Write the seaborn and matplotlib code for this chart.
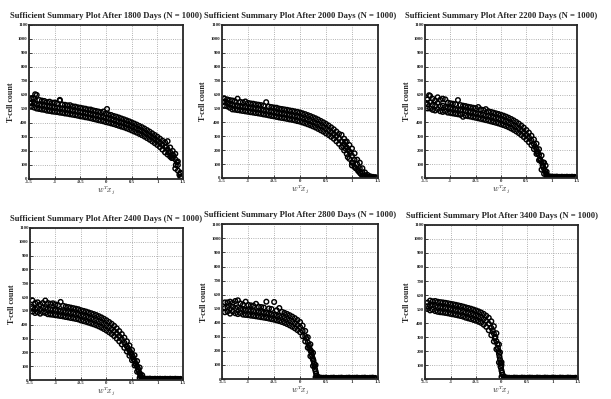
import pandas as pd
import matplotlib.pyplot as plt
import seaborn as sns

# common x grid (w^T x_j) the bands were read on
u = [-1.45, -1.40, -1.35, -1.30, -1.25, -1.20, -1.15, -1.10, -1.05, -1.00,
     -0.95, -0.90, -0.85, -0.80, -0.75, -0.70, -0.65, -0.60, -0.55, -0.50,
     -0.45, -0.40, -0.35, -0.30, -0.25, -0.20, -0.15, -0.10, -0.05, 0.00,
     0.05, 0.10, 0.15, 0.20, 0.25, 0.30, 0.35, 0.40, 0.45, 0.50,
     0.55, 0.60, 0.65, 0.70, 0.75, 0.80, 0.85, 0.90, 0.95, 1.00,
     1.05, 1.10, 1.15, 1.20, 1.25, 1.30, 1.35, 1.40, 1.45]

days = [1800, 2000, 2200, 2400, 2800, 3400]

# T-cell counts: upper / middle / lower edge of each point cloud
hi_1800 = [575, 575, 600, 564, 560, 557, 549, 552, 545, 546,
           540, 560, 532, 530, 526, 527, 519, 517, 512, 509,
           505, 502, 497, 496, 490, 486, 482, 477, 482, 468,
           462, 457, 450, 445, 439, 432, 426, 419, 412, 404,
           396, 388, 379, 370, 360, 349, 338, 326, 314, 302,
           288, 274, 262, 270, 225, 200, 180, 125, 45]
mid_1800 = [545, 540, 535, 530, 527, 524, 521, 518, 515, 512,
            509, 506, 503, 500, 497, 494, 490, 487, 483, 479,
            476, 472, 468, 464, 460, 456, 452, 447, 443, 438,
            433, 427, 422, 416, 410, 404, 398, 391, 384, 376,
            368, 360, 351, 342, 332, 321, 310, 298, 286, 273,
            259, 244, 228, 211, 192, 170, 140, 100, 40]
lo_1800 = [520, 510, 503, 500, 496, 494, 488, 486, 482, 480,
           478, 474, 472, 468, 466, 462, 459, 456, 452, 448,
           445, 441, 438, 434, 429, 425, 420, 416, 412, 406,
           402, 397, 392, 386, 380, 374, 369, 362, 355, 347,
           339, 331, 322, 313, 303, 292, 281, 269, 256, 243,
           228, 210, 190, 175, 160, 150, 75, 60, 15]
ex_x_1800 = [-1.48, -1.42, -1.38, 1.18, 1.22, 1.28, 1.32, 1.36, 1.38, 1.43, 1.47, -0.90, 0.02]
ex_y_1800 = [540, 580, 605, 230, 190, 150, 165, 100, 120, 30, 15, 565, 500]

hi_2000 = [570, 565, 560, 557, 552, 570, 547, 544, 550, 540,
           536, 534, 530, 527, 524, 520, 545, 514, 510, 507,
           505, 499, 496, 493, 490, 486, 483, 479, 475, 471,
           465, 459, 452, 445, 437, 429, 420, 410, 400, 389,
           377, 364, 350, 334, 317, 310, 282, 262, 237, 212,
           177, 132, 110, 70, 40, 22, 12, 8, 6]
mid_2000 = [550, 540, 530, 525, 522, 518, 515, 512, 510, 507,
            504, 501, 498, 495, 492, 488, 485, 481, 478, 474,
            470, 466, 463, 459, 456, 452, 449, 445, 441, 437,
            431, 425, 418, 411, 403, 395, 386, 376, 366, 355,
            343, 330, 316, 300, 283, 264, 243, 220, 190, 160,
            130, 100, 70, 40, 20, 10, 5, 3, 2]
lo_2000 = [520, 515, 505, 493, 491, 488, 485, 482, 479, 476,
           473, 470, 467, 464, 461, 457, 454, 450, 446, 443,
           439, 435, 432, 429, 425, 421, 418, 414, 409, 405,
           399, 393, 386, 379, 371, 363, 353, 343, 333, 321,
           309, 296, 282, 264, 246, 223, 198, 173, 138, 110,
           80, 65, 38, 15, 5, 2, 0, 0, 0]
ex_x_2000 = [-1.48, 0.83, 0.87, 0.92, 0.93, 0.97, 1.00, 1.02, 1.07, 1.12, 1.17, 1.22, 0.88]
ex_y_2000 = [545, 230, 260, 150, 200, 180, 90, 110, 70, 50, 30, 15, 210]

hi_2200 = [565, 590, 570, 557, 580, 562, 570, 565, 542, 537,
           534, 530, 560, 524, 520, 517, 512, 509, 505, 502,
           510, 493, 489, 495, 480, 475, 470, 465, 460, 454,
           448, 441, 433, 424, 414, 403, 391, 377, 362, 345,
           326, 304, 277, 247, 207, 162, 110, 45, 12, 10,
           9, 10, 8, 9, 8, 9, 8, 9, 8]
mid_2200 = [530, 545, 525, 520, 540, 515, 520, 510, 505, 502,
            498, 495, 492, 488, 485, 482, 478, 475, 471, 467,
            463, 459, 455, 450, 446, 441, 436, 431, 426, 420,
            414, 407, 399, 390, 380, 369, 357, 343, 328, 311,
            292, 270, 243, 210, 165, 115, 65, 20, 5, 3,
            3, 4, 3, 2, 3, 4, 3, 2, 3]
lo_2200 = [500, 500, 490, 485, 495, 480, 475, 480, 470, 468,
           464, 461, 458, 454, 440, 448, 444, 441, 437, 433,
           429, 425, 421, 416, 412, 407, 402, 397, 392, 386,
           380, 373, 365, 356, 346, 335, 323, 309, 294, 277,
           258, 236, 208, 173, 128, 60, 30, 3, 0, 0,
           0, 0, 0, 0, 0, 0, 0, 0, 0]
ex_x_2200 = [-1.48, -1.42, 0.67, 0.72, 0.73, 0.77, 0.78, 0.82, 0.83, 0.84, 0.87, 0.88, 0.89, 0.91]
ex_y_2200 = [540, 595, 225, 190, 175, 135, 125, 90, 80, 110, 50, 90, 30, 15]

hi_2400 = [575, 557, 562, 547, 557, 575, 557, 552, 555, 547,
           542, 565, 537, 532, 528, 524, 520, 516, 512, 505,
           500, 495, 489, 483, 477, 470, 462, 453, 443, 432,
           420, 407, 392, 374, 354, 332, 307, 280, 250, 217,
           179, 137, 90, 35, 10, 9, 10, 8, 9, 8,
           9, 8, 9, 8, 9, 8, 9, 8, 8]
mid_2400 = [520, 515, 520, 510, 525, 520, 515, 512, 510, 507,
            504, 500, 497, 494, 490, 487, 483, 479, 475, 468,
            463, 458, 452, 446, 440, 433, 425, 416, 406, 395,
            383, 370, 355, 337, 317, 295, 270, 243, 213, 180,
            142, 100, 50, 12, 4, 3, 4, 3, 2, 3,
            4, 3, 2, 3, 4, 3, 2, 3, 2]
lo_2400 = [495, 485, 490, 480, 490, 485, 476, 474, 472, 469,
           466, 463, 460, 456, 453, 449, 446, 442, 438, 431,
           426, 421, 415, 409, 403, 396, 388, 379, 369, 358,
           346, 333, 318, 300, 280, 258, 233, 206, 176, 143,
           105, 60, 15, 2, 0, 0, 0, 0, 0, 0,
           0, 0, 0, 0, 0, 0, 0, 0, 0]
ex_x_2400 = [-1.48, 0.42, 0.47, 0.48, 0.52, 0.53, 0.57, 0.58, 0.62, 0.63, 0.66, 0.67, 0.68]
ex_y_2400 = [530, 230, 200, 190, 165, 150, 120, 110, 80, 65, 40, 30, 20]

hi_2800 = [545, 545, 550, 542, 555, 560, 537, 530, 550, 527,
           524, 521, 535, 515, 512, 509, 550, 502, 498, 548,
           489, 505, 478, 471, 463, 454, 444, 433, 420, 406,
           380, 342, 297, 247, 187, 100, 15, 10, 9, 10,
           8, 9, 10, 8, 9, 10, 8, 9, 10, 8,
           9, 10, 8, 9, 10, 8, 9, 10, 8]
mid_2800 = [505, 510, 500, 515, 505, 510, 500, 495, 492, 490,
            487, 485, 482, 479, 476, 473, 470, 466, 462, 458,
            453, 448, 442, 435, 427, 418, 408, 397, 384, 370,
            342, 305, 260, 205, 140, 55, 8, 3, 4, 3,
            2, 3, 4, 3, 2, 3, 4, 3, 2, 3,
            4, 3, 2, 3, 4, 3, 2, 3, 2]
lo_2800 = [475, 480, 465, 480, 468, 462, 468, 458, 456, 454,
           451, 449, 446, 443, 440, 437, 434, 430, 426, 422,
           417, 412, 406, 399, 391, 382, 372, 361, 348, 334,
           304, 268, 223, 163, 93, 12, 2, 0, 0, 0,
           0, 0, 0, 0, 0, 0, 0, 0, 0, 0,
           0, 0, 0, 0, 0, 0, 0, 0, 0]
ex_x_2800 = [0.12, 0.17, 0.18, 0.21, 0.22, 0.23, 0.24, 0.26, 0.27, 0.28, 0.29, 0.31, 0.32, 0.33]
ex_y_2800 = [290, 240, 220, 200, 190, 170, 150, 130, 110, 90, 70, 40, 25, 12]

hi_3400 = [545, 560, 555, 557, 552, 549, 547, 544, 541, 537,
           534, 530, 526, 522, 517, 512, 507, 502, 496, 490,
           483, 475, 465, 452, 437, 412, 377, 327, 247, 120,
           18, 10, 9, 8, 10, 9, 8, 10, 9, 8,
           10, 9, 8, 10, 9, 8, 10, 9, 8, 10,
           9, 8, 10, 9, 8, 10, 9, 8, 9]
mid_3400 = [520, 525, 530, 520, 515, 512, 510, 507, 504, 500,
            497, 493, 489, 485, 480, 475, 470, 465, 459, 453,
            446, 438, 428, 415, 395, 365, 325, 270, 180, 60,
            8, 3, 4, 3, 2, 3, 4, 3, 2, 3,
            4, 3, 2, 3, 4, 3, 2, 3, 4, 3,
            2, 3, 4, 3, 2, 3, 4, 3, 2]
lo_3400 = [500, 490, 495, 485, 480, 477, 475, 472, 469, 465,
           462, 458, 454, 450, 445, 438, 433, 428, 422, 416,
           409, 401, 388, 373, 348, 313, 268, 213, 118, 15,
           2, 0, 0, 0, 0, 0, 0, 0, 0, 0,
           0, 0, 0, 0, 0, 0, 0, 0, 0, 0,
           0, 0, 0, 0, 0, 0, 0, 0, 0]
ex_x_3400 = [-0.17, -0.13, -0.12, -0.08, -0.07, -0.06, -0.04, -0.03, -0.03, -0.02, -0.02, -0.01, 0.00, 0.01, 0.02]
ex_y_3400 = [345, 290, 300, 250, 220, 200, 160, 140, 190, 115, 90, 80, 100, 45, 30]

x_ticks = [-1.5, -1, -0.5, 0, 0.5, 1, 1.5]
x_ticklabels = ['-1.5', '-1', '-0.5', '0', '0.5', '1', '1.5']
y_ticks = [0, 100, 200, 300, 400, 500, 600, 700, 800, 900, 1000, 1100]

panels = [
    (hi_1800, mid_1800, lo_1800, ex_x_1800, ex_y_1800),
    (hi_2000, mid_2000, lo_2000, ex_x_2000, ex_y_2000),
    (hi_2200, mid_2200, lo_2200, ex_x_2200, ex_y_2200),
    (hi_2400, mid_2400, lo_2400, ex_x_2400, ex_y_2400),
    (hi_2800, mid_2800, lo_2800, ex_x_2800, ex_y_2800),
    (hi_3400, mid_3400, lo_3400, ex_x_3400, ex_y_3400),
]

sns.set_style("ticks")
plt.rcParams['font.family'] = ['Liberation Serif', 'DejaVu Serif']
plt.rcParams['mathtext.fontset'] = 'cm'

fig = plt.figure(figsize=(6.11, 3.99), dpi=100)

# axes boxes in figure fractions
boxes = [
    [0.0475, 0.5514, 0.2520, 0.3860],
    [0.3633, 0.5539, 0.2553, 0.3835],
    [0.6956, 0.5539, 0.2488, 0.3835],
    [0.0491, 0.0476, 0.2504, 0.3810],
    [0.3639, 0.0500, 0.2543, 0.3877],
    [0.6956, 0.0501, 0.2504, 0.3860],
]

for d, box, (hi, mid, lo, exx, exy) in zip(days, boxes, panels):
    ax = fig.add_axes(box)
    df = pd.DataFrame({'x': u + u + u + exx, 'y': hi + mid + lo + exy})
    sns.scatterplot(data=df, x='x', y='y', ax=ax, s=11,
                    facecolors='none', edgecolors='black', linewidth=1.05)
    ax.set_xlim(-1.5, 1.5)
    ax.set_ylim(0, 1100)
    ax.set_xticks(x_ticks)
    ax.set_xticklabels(x_ticklabels)
    ax.set_yticks(y_ticks)
    ax.grid(True, linestyle=':', color='0.6', linewidth=0.6)
    ax.tick_params(direction='in', length=2, width=0.6, labelsize=3.5, pad=1)
    for lab in ax.get_xticklabels() + ax.get_yticklabels():
        lab.set_fontweight('bold')
    for sp in ax.spines.values():
        sp.set_linewidth(1.3)
    ax.set_title(f'Sufficient Summary Plot After {d} Days (N = 1000)',
                 fontsize=6.2, fontweight='bold', pad=5)
    ax.set_ylabel('T-cell count', fontsize=5.8, fontweight='bold', labelpad=2.5)
    ax.set_xlabel(r'$w^T x_j$', fontsize=5.5, labelpad=0)

fig.savefig('out.png', dpi=100)
